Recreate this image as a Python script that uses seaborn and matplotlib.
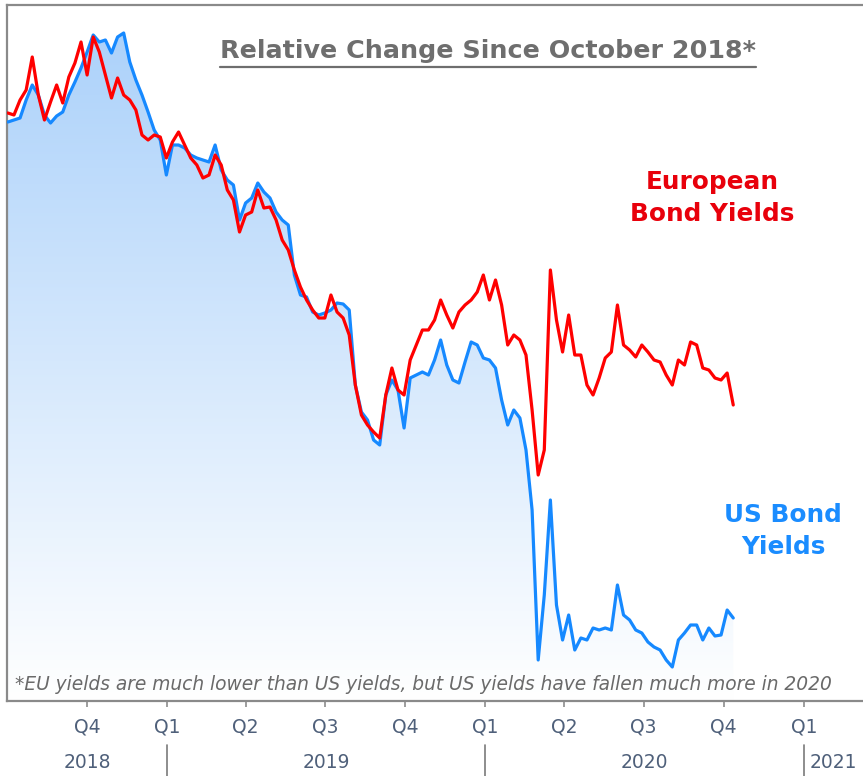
import numpy as np
import pandas as pd
import matplotlib
matplotlib.use("Agg")
import matplotlib.pyplot as plt
import matplotlib.dates as mdates
import matplotlib.transforms as mtransforms
from matplotlib.colors import LinearSegmentedColormap
from matplotlib.lines import Line2D
import seaborn as sns

# weekly readings, relative index (arbitrary units)
start_week = "2018-07-02"
us_yields = [
    115.8, 116.2, 116.6, 120.2, 123.2, 121.2, 117.2, 115.6, 117.0, 117.8,
    121.2, 123.8, 126.6, 129.8, 133.2, 131.8, 132.2, 129.6, 132.8, 133.6,
    127.8, 124.2, 121.2, 117.8, 114.2, 112.2, 105.2, 111.2, 111.2, 110.6,
    109.2, 108.6, 108.2, 107.8, 111.2, 106.2, 104.2, 103.2, 96.2, 99.6,
    100.6, 103.6, 101.8, 100.6, 97.8, 96.2, 95.2, 85.2, 81.2, 80.8,
    77.8, 77.2, 77.6, 78.2, 79.6, 79.4, 78.2, 63.2, 57.8, 56.2,
    52.2, 51.2, 61.2, 64.2, 62.2, 54.6, 64.6, 65.2, 65.8, 65.2,
    68.2, 72.2, 67.2, 64.2, 63.6, 67.8, 71.8, 71.2, 68.6, 68.2,
    66.6, 60.2, 55.2, 58.2, 56.6, 50.2, 38.2, 8.2, 21.2, 40.2,
    19.2, 12.2, 17.2, 10.2, 12.6, 12.2, 14.6, 14.2, 14.6, 14.2,
    23.2, 17.2, 16.2, 14.2, 13.6, 11.8, 10.8, 10.2, 8.2, 6.8,
    12.2, 13.6, 15.2, 15.2, 12.2, 14.6, 13.0, 13.2, 18.2, 16.6,
]
eu_yields = [
    117.6, 117.2, 120.2, 122.2, 128.8, 121.2, 116.2, 119.8, 123.2, 119.6,
    124.8, 127.6, 131.8, 125.2, 132.8, 129.8, 125.2, 120.6, 124.6, 121.2,
    120.2, 118.2, 113.2, 112.2, 113.2, 112.8, 108.6, 111.8, 113.8, 111.2,
    108.6, 107.2, 104.6, 105.2, 109.2, 107.2, 102.2, 100.2, 93.8, 97.2,
    97.8, 102.2, 98.6, 98.8, 96.2, 92.2, 90.2, 86.2, 82.8, 80.2,
    78.2, 76.6, 76.6, 81.2, 77.8, 76.6, 73.2, 63.2, 57.2, 55.2,
    53.8, 52.6, 61.2, 66.6, 62.2, 61.2, 68.2, 71.2, 74.2, 74.2,
    76.2, 80.2, 77.2, 74.6, 77.8, 79.2, 80.2, 81.8, 85.2, 80.2,
    84.2, 79.2, 71.2, 73.2, 72.2, 69.2, 58.2, 45.2, 50.2, 86.2,
    76.2, 69.8, 77.2, 69.2, 69.2, 63.2, 61.2, 64.6, 68.6, 69.8,
    79.2, 71.2, 70.2, 68.8, 71.2, 69.8, 68.2, 67.8, 65.2, 63.2,
    68.2, 67.2, 71.8, 71.2, 66.6, 66.2, 64.6, 64.2, 65.6, 59.2,
]

quarter_ticks = ["2018-10-01", "2019-01-01", "2019-04-01", "2019-07-01", "2019-10-01",
                 "2020-01-01", "2020-04-01", "2020-07-01", "2020-10-01", "2021-01-01"]
quarter_labels = ["Q4", "Q1", "Q2", "Q3", "Q4", "Q1", "Q2", "Q3", "Q4", "Q1"]
years = ["2018", "2019", "2020", "2021"]
year_starts = ["2019-01-01", "2020-01-01", "2021-01-01"]

x_min, x_max = pd.Timestamp("2018-07-01"), pd.Timestamp("2021-03-10")
y_min, y_max = 0, 139.2

dates = pd.date_range(start_week, periods=len(us_yields), freq="7D")
df = pd.DataFrame({"date": dates, "US": us_yields, "EU": eu_yields})

sns.set_theme(style="white")
plt.rcParams["font.family"] = ["DejaVu Sans"]

fig = plt.figure(figsize=(8.63, 7.76), dpi=100)
ax = fig.add_axes([7 / 863, 75 / 776, 856 / 863, 696 / 776])

# lines
sns.lineplot(data=df, x="date", y="US", color="#1689ff", lw=2.3, ax=ax, zorder=3)
sns.lineplot(data=df, x="date", y="EU", color="#ff0000", lw=2.3, ax=ax, zorder=4)

# gradient area under the US series
poly = ax.fill_between(df["date"], df["US"], 0, color="none", lw=0)
cmap = LinearSegmentedColormap.from_list("fade", ["#ffffff", "#a9d0fa"])
grad = np.linspace(1, 0, 256).reshape(-1, 1)
x0 = mdates.date2num(df["date"].iloc[0])
x1 = mdates.date2num(df["date"].iloc[-1])
img = ax.imshow(grad, extent=[x0, x1, y_min, y_max], aspect="auto", cmap=cmap,
                vmin=0, vmax=1, origin="upper", zorder=1)
img.set_clip_path(poly.get_paths()[0], transform=ax.transData)

ax.set_xlim(x_min, x_max)
ax.set_ylim(y_min, y_max)
ax.set_xlabel("")
ax.set_ylabel("")
ax.set_yticks([])

ax.set_xticks(pd.to_datetime(quarter_ticks))
ax.set_xticklabels(quarter_labels)
ax.tick_params(axis="x", bottom=True, length=4, width=1.2, color="#8c8c8c",
               pad=8, labelsize=13.5, labelcolor="#4f607a")

for side in ["left", "top", "bottom"]:
    ax.spines[side].set_color("#8a8a8a")
    ax.spines[side].set_linewidth(1.6)
ax.spines["right"].set_visible(False)

# year row
trans = mtransforms.blended_transform_factory(ax.transData, fig.transFigure)
bounds = [mdates.date2num(x_min)] + [mdates.date2num(pd.Timestamp(d)) for d in year_starts] \
    + [mdates.date2num(x_max)]
for yr, a, b in zip(years, bounds[:-1], bounds[1:]):
    ax.text((a + b) / 2, 14 / 776, yr, transform=trans, ha="center", va="center",
            fontsize=13.5, color="#4f607a")
for b in bounds[1:-1]:
    ax.add_line(Line2D([b, b], [0, 31 / 776], transform=trans, color="#7a7a7a",
                       lw=1.2, clip_on=False))

# annotations
title = ax.text(0.562, 0.934, "Relative Change Since October 2018*", transform=ax.transAxes,
                ha="center", va="center", fontsize=18.3, fontweight="bold", color="#6e6e6e")
ax.text(0.824, 0.722, "European\nBond Yields", transform=ax.transAxes, ha="center",
        va="center", fontsize=17.8, fontweight="bold", color="#e8000b", linespacing=1.42)
ax.text(0.907, 0.244, "US Bond\nYields", transform=ax.transAxes, ha="center",
        va="center", fontsize=17.8, fontweight="bold", color="#1a8cff", linespacing=1.42)
ax.text(0.0093, 0.023, "*EU yields are much lower than US yields, but US yields have fallen much more in 2020",
        transform=ax.transAxes, ha="left", va="center", fontsize=13.4, fontstyle="italic",
        color="#6a6a6a")

# underline the title
fig.canvas.draw()
bb = title.get_window_extent().transformed(ax.transAxes.inverted())
ax.add_line(Line2D([bb.x0, bb.x1], [0.911, 0.911], transform=ax.transAxes,
                   color="#6e6e6e", lw=1.6))

fig.savefig("out.png", dpi=100)
